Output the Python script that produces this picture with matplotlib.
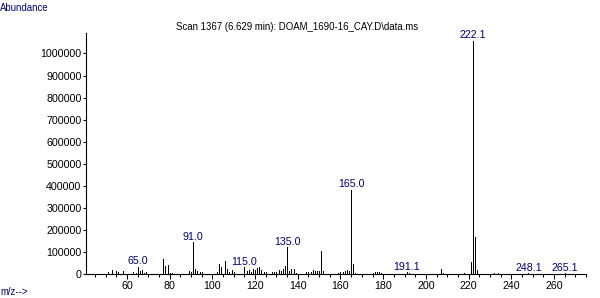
import matplotlib
matplotlib.use("Agg")
import matplotlib.pyplot as plt
from matplotlib import ticker

# ---- data ----
mz = [51, 53, 55, 56, 58, 63, 64, 65, 66, 67, 68, 69, 77, 78, 79, 80, 81,
      89, 90, 91, 92, 93, 94, 95, 102, 103, 104, 106, 107, 108, 109, 110,
      115, 116, 117, 118, 119, 120, 121, 122, 123, 124, 125,
      128, 129, 130, 131, 132, 133, 134, 135, 136, 137, 138, 139,
      144, 145, 146, 147, 148, 149, 150, 151, 152,
      159, 160, 161, 162, 163, 164, 165, 166, 167,
      175, 176, 177, 178, 179, 191, 192, 207, 208, 218,
      221, 222, 223, 224, 232, 234, 248, 265]
abundance = [9000, 18000, 12000, 9000, 12000, 7500, 6000, 32000, 13600, 18000, 6000, 9000,
             67000, 37000, 42000, 6000, 6000,
             13600, 10600, 145000, 22700, 13600, 7500, 7500,
             10600, 47000, 31700, 59000, 22700, 10600, 16600, 7500,
             31700, 13600, 19600, 10600, 22700, 19600, 28700, 31700, 19600, 10600, 7500,
             9000, 9000, 10600, 16000, 12000, 22700, 36300, 122000, 13600, 21000, 24000, 6000,
             9000, 9000, 9000, 18000, 13600, 13600, 13600, 106000, 15000,
             6000, 10600, 10600, 13600, 18000, 13600, 381000, 45000, 6000,
             4500, 7500, 9000, 9000, 4500, 9000, 6000, 24000, 6000, 4500,
             54400, 1060000, 169000, 17000, 3000, 5000, 4000, 4000]
peak_labels = [65.0, 91.0, 115.0, 135.0, 165.0, 191.1, 222.1, 248.1, 265.1]
title_text = "Scan 1367 (6.629 min): DOAM_1690-16_CAY.D\\data.ms"
x_ticks = [60, 80, 100, 120, 140, 160, 180, 200, 220, 240, 260]
y_ticks = [0, 100000, 200000, 300000, 400000, 500000, 600000, 700000, 800000, 900000, 1000000]

navy = "#000080"
plt.rcParams['font.family'] = ['Liberation Sans', 'DejaVu Sans']
fs = 7.7

fig = plt.figure(figsize=(6.0, 2.98), dpi=100)
ax = fig.add_axes([86/600, 24/298, 500/600, (274-33.3)/298])

ax.vlines(mz, 0, abundance, colors="black", linewidth=0.72, antialiased=False)

ax.set_xlim(40.8, 275)
ax.set_ylim(0, 1091600)
for s in ("top", "right"):
    ax.spines[s].set_visible(False)
for s in ("left", "bottom"):
    ax.spines[s].set_linewidth(0.8)

ax.set_xticks(x_ticks)
ax.xaxis.set_minor_locator(ticker.MultipleLocator(5))
ax.set_yticks(y_ticks)
ax.yaxis.set_major_formatter(ticker.FuncFormatter(lambda v, p: "%d" % v))
ax.tick_params(axis="x", which="major", length=3.5, width=0.75, pad=1.5, labelsize=fs)
ax.tick_params(axis="x", which="minor", length=2, width=0.75)
ax.tick_params(axis="y", which="major", length=2.2, width=0.75, pad=1, labelsize=fs)

lookup = dict(zip(mz, abundance))
for lab in peak_labels:
    h = lookup[int(round(lab))]
    ax.annotate("%.1f" % lab, xy=(lab, h), xytext=(0, 2.5), textcoords="offset pixels",
                ha="center", va="baseline", fontsize=fs, color=navy,
                annotation_clip=False, zorder=5,
                bbox=dict(facecolor="white", edgecolor="none", pad=0.6))

ax.text(176/600, 1 - 30.5/298, title_text, transform=fig.transFigure,
        ha="left", va="baseline", fontsize=6.9, color="black", zorder=1)
fig.text(0.0, 1 - 11/298, "Abundance", ha="left", va="baseline", fontsize=6.9, color=navy)
fig.text(0.0, 1 - 295/298, "m/z-->", ha="left", va="baseline", fontsize=6.9, color=navy)

fig.savefig("out.png", dpi=100, facecolor="white")
